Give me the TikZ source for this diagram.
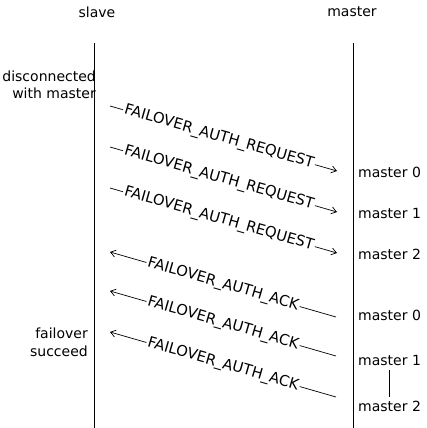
\documentclass[tikz,border=0pt]{standalone}
\usepackage{fontspec}
\setmainfont{DejaVu Sans}
\usetikzlibrary{arrows.meta}
\begin{document}
\begin{tikzpicture}[x=1pt,y=-1pt,
  lbl/.style={font=\fontsize{14}{17}\selectfont, inner sep=1pt},
  life/.style={draw, line width=0.8pt},
  msg/.style={draw, line width=0.7pt, -{Straight Barb[length=5pt,width=7pt]}},
  msgtxt/.style={sloped, fill=white, inner sep=1.5pt, font=\fontsize{14.8}{17}\selectfont}]
\useasboundingbox (0,0) rectangle (426,428);
% headers
\node[lbl] (slave) at (97,12) {slave};
\node[lbl] (master) at (352,12) {master};
% lifelines
\coordinate (st) at (94,43); \coordinate (sb) at (94,428);
\coordinate (mt) at (353,43); \coordinate (mb) at (353,428);
\draw[life] (st) -- (sb);
\draw[life] (mt) -- (mb);
% slave notes
\node[lbl, align=right, anchor=east, font=\fontsize{14}{17}\selectfont] (disc) at (97,85) {disconnected\\with master};
\node[lbl, align=right, anchor=east, font=\fontsize{14}{18}\selectfont] (fail) at (89,342) {failover\\succeed};
% master labels
\node[lbl, anchor=west] (m1) at (357,172) {master 0};
\node[lbl, anchor=west] (m2) at (357,213) {master 1};
\node[lbl, anchor=west] (m3) at (357,254) {master 2};
\node[lbl, anchor=west] (m4) at (357,315) {master 0};
\node[lbl, anchor=west] (m5) at (357,360) {master 1};
\node[lbl, anchor=west] (m6) at (357,406) {master 2};
\draw[line width=0.7pt, shorten <=4pt, shorten >=3pt] (m5.south) -- (m6.north);
% request messages
\coordinate (r1s) at (110,106); \coordinate (r1e) at (337,171);
\coordinate (r2s) at (110,147); \coordinate (r2e) at (337,212);
\coordinate (r3s) at (110,188); \coordinate (r3e) at (337,253);
\draw[msg] (r1s) -- node[msgtxt, pos=0.48] (t1) {FAILOVER\_AUTH\_REQUEST} (r1e);
\draw[msg] (r2s) -- node[msgtxt, pos=0.48] (t2) {FAILOVER\_AUTH\_REQUEST} (r2e);
\draw[msg] (r3s) -- node[msgtxt, pos=0.48] (t3) {FAILOVER\_AUTH\_REQUEST} (r3e);
% ack messages
\coordinate (a1s) at (336,317); \coordinate (a1e) at (110,252);
\coordinate (a2s) at (336,356); \coordinate (a2e) at (110,291);
\coordinate (a3s) at (336,397); \coordinate (a3e) at (110,332);
\draw[msg] (a1s) -- node[msgtxt, pos=0.50] (t4) {FAILOVER\_AUTH\_ACK} (a1e);
\draw[msg] (a2s) -- node[msgtxt, pos=0.50] (t5) {FAILOVER\_AUTH\_ACK} (a2e);
\draw[msg] (a3s) -- node[msgtxt, pos=0.50] (t6) {FAILOVER\_AUTH\_ACK} (a3e);
\end{tikzpicture}
\end{document}
